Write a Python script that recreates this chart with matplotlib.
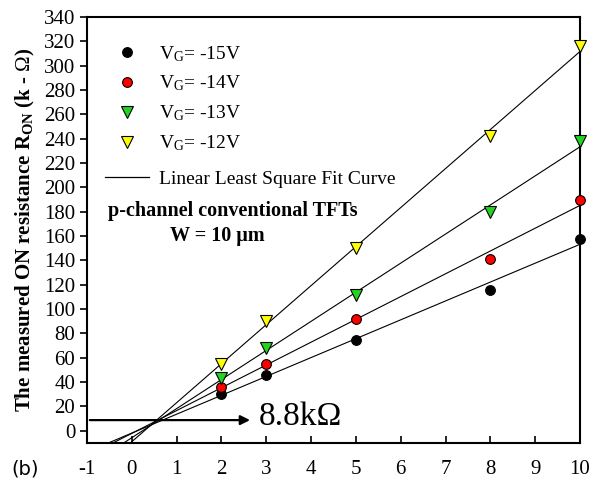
import numpy as np
import matplotlib
matplotlib.use("Agg")
import matplotlib.pyplot as plt
from matplotlib.lines import Line2D

plt.rcParams['font.family'] = ['Liberation Serif', 'DejaVu Serif']
plt.rcParams['mathtext.fontset'] = 'custom'
plt.rcParams['mathtext.rm'] = 'Liberation Serif'
plt.rcParams['mathtext.it'] = 'Liberation Serif:italic'
plt.rcParams['mathtext.bf'] = 'Liberation Serif:bold'
plt.rcParams['axes.unicode_minus'] = False

# Channel length (µm) and measured ON resistance (kΩ) per gate voltage
length_um = [2, 3, 5, 8, 10]
r_vg15 = [30, 46, 75, 116, 158]
r_vg14 = [36, 55, 92, 141, 190]
r_vg13 = [43, 68, 112, 180, 238]
r_vg12 = [55, 90, 150, 242, 316]

series_labels = [r'V$_{\mathrm{G}}$= -15V', r'V$_{\mathrm{G}}$= -14V',
                 r'V$_{\mathrm{G}}$= -13V', r'V$_{\mathrm{G}}$= -12V']
contact_r = 8.8

x_ticks = list(range(-1, 11))
y_ticks = list(range(0, 341, 20))

styles = [
    dict(marker='o', color='black', ms=7),
    dict(marker='o', color='red', ms=7),
    dict(marker='v', color='#22d422', ms=8),
    dict(marker='v', color='#ffff00', ms=8),
]

fig = plt.figure(figsize=(5.91, 4.80), dpi=100)
ax = fig.add_axes([0.1472, 0.0771, 0.8342, 0.8875])

xfit = np.array([-1.0, 10.0])
handles = []
for ys, st, lab in zip([r_vg15, r_vg14, r_vg13, r_vg12], styles, series_labels):
    k, b = np.polyfit(length_um, ys, 1)
    ax.plot(xfit, k * xfit + b, color='black', lw=0.8, zorder=2)
    ax.plot(length_um, ys, linestyle='none', marker=st['marker'],
            markerfacecolor=st['color'], markeredgecolor='black',
            markersize=st['ms'], markeredgewidth=0.8, zorder=3, clip_on=False)
    handles.append(Line2D([], [], linestyle='none', marker=st['marker'],
                          markerfacecolor=st['color'], markeredgecolor='black',
                          markersize=st['ms'], markeredgewidth=0.8, label=lab))
fit_handle = Line2D([], [], color='black', lw=0.9,
                    label='Linear Least Square Fit Curve')

ax.set_xlim(-1, 10)
ax.set_ylim(-10, 340)
ax.set_xticks(x_ticks)
ax.set_yticks(y_ticks)
ax.tick_params(axis='x', direction='in', length=5, width=1.2, labelsize=15, pad=12)
ax.tick_params(axis='y', direction='out', length=5, width=1.2, labelsize=15)
for s in ax.spines.values():
    s.set_linewidth(1.5)

ax.annotate('', xy=(2.7, contact_r), xytext=(-1, contact_r),
            arrowprops=dict(arrowstyle='-|>', color='black', lw=1.6,
                            mutation_scale=14))
ax.text(2.83, contact_r + 3, '8.8k\u03a9', fontsize=24, va='center', ha='left')

leg_kw = dict(frameon=False, fontsize=14, handlelength=2.3, handletextpad=0.5,
              borderaxespad=0, loc='upper left')
leg1 = ax.legend(handles=handles, bbox_to_anchor=(0.02, 0.955),
                 labelspacing=0.52, **leg_kw)
ax.add_artist(leg1)
ax.legend(handles=[fit_handle], bbox_to_anchor=(0.02, 0.659), **leg_kw)

ax.text(0.296, 0.545, 'p-channel conventional TFTs', transform=ax.transAxes,
        fontsize=14.5, fontweight='bold', ha='center', va='center')
ax.text(0.265, 0.486, 'W = 10 \u03bcm', transform=ax.transAxes,
        fontsize=14.5, fontweight='bold', ha='center', va='center')

ax.set_ylabel(r'The measured ON resistance R$_{\mathbf{ON}}$ (k - $\Omega$)',
              fontsize=15, fontweight='bold', labelpad=5)
fig.text(0.02, 0.023, '(b)', fontsize=14, family='DejaVu Sans', ha='left', va='center')

fig.savefig('out.png', dpi=100)
